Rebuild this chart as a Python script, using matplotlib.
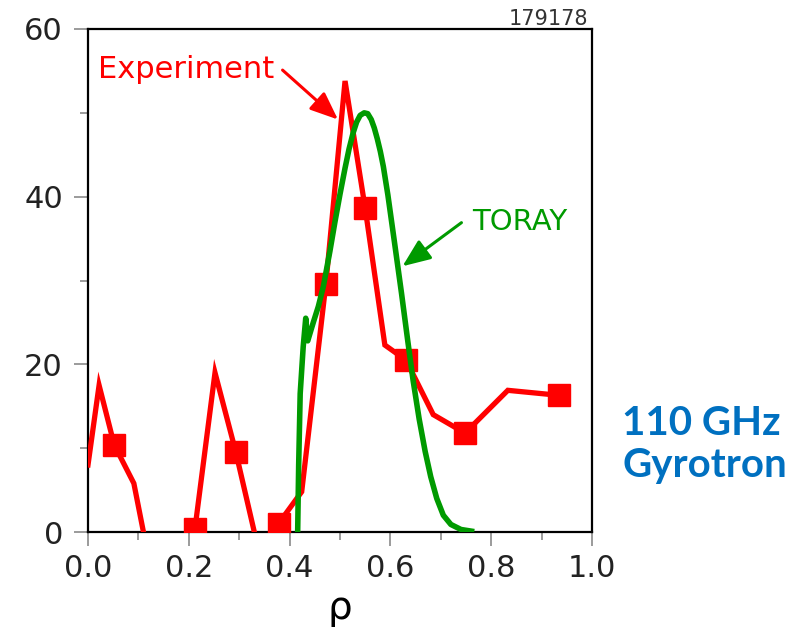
import numpy as np
import matplotlib
matplotlib.use('Agg')
import matplotlib.pyplot as plt
from matplotlib.ticker import MultipleLocator

# measured deposition profile (rho, power density)
rho_exp = [0.0, 0.022, 0.052, 0.091, 0.11, 0.16, 0.212, 0.252, 0.293, 0.33,
           0.355, 0.378, 0.424, 0.472, 0.510, 0.550, 0.589, 0.631, 0.685,
           0.748, 0.833, 0.935]
p_exp = [8.0, 17.5, 10.4, 5.8, 0.0, -8.0, 0.3, 19.0, 9.6, 0.0,
         -4.0, 1.0, 4.8, 29.6, 53.8, 38.6, 22.3, 20.5, 14.0,
         11.8, 16.9, 16.3]
exp_markers = [2, 6, 8, 11, 13, 15, 17, 19, 21]

# TORAY ray-tracing prediction
rho_toray = [0.416, 0.418, 0.421, 0.427, 0.432, 0.436, 0.447, 0.457, 0.467,
             0.480, 0.490, 0.500, 0.510, 0.518, 0.526, 0.533, 0.540, 0.548,
             0.555, 0.562, 0.568, 0.574, 0.580, 0.586, 0.595, 0.608, 0.622,
             0.634, 0.645, 0.657, 0.669, 0.680, 0.692, 0.705, 0.720, 0.740,
             0.761]
p_toray = [0.0, 8.0, 16.5, 22.1, 25.5, 22.8, 25.0, 26.9, 29.3,
           33.5, 37.0, 40.3, 43.4, 45.7, 47.6, 48.9, 49.7, 50.0,
           49.9, 49.2, 48.2, 46.9, 45.4, 43.6, 40.2, 34.6, 28.5,
           23.0, 18.1, 13.5, 9.6, 6.6, 4.0, 2.0, 0.9, 0.3,
           0.1]

xticks = [0.0, 0.2, 0.4, 0.6, 0.8, 1.0]
xticklabels = ['0.0', '0.2', '0.4', '0.6', '0.8', '1.0']
yticks = [0, 20, 40, 60]

red = '#ff0000'
green = '#009a00'
blue = '#0070c0'

fig = plt.figure(figsize=(8.11, 6.30), dpi=100)
ax = fig.add_axes([88 / 811, 98 / 630, 504 / 811, 503 / 630])

ax.plot(rho_exp, p_exp, color=red, lw=3.8, solid_joinstyle='miter',
        marker='s', markersize=16, markevery=exp_markers, zorder=3)
ax.plot(rho_toray, p_toray, color=green, lw=4.0, zorder=4)

ax.set_xlim(0, 1)
ax.set_ylim(0, 60)
ax.set_xticks(xticks)
ax.set_xticklabels(xticklabels)
ax.set_yticks(yticks)
ax.xaxis.set_minor_locator(MultipleLocator(0.1))
ax.yaxis.set_minor_locator(MultipleLocator(10))
ax.tick_params(which='both', direction='out', color='#8a8a8a', width=1.2,
               labelsize=22, labelcolor='#222222')
ax.tick_params(which='major', length=10)
ax.tick_params(which='minor', length=6)
ax.tick_params(axis='y', pad=8)
ax.tick_params(axis='x', pad=6)
for s in ax.spines.values():
    s.set_linewidth(1.6)
    s.set_color('black')

ax.set_xlabel(u'\u03c1', fontsize=28, labelpad=4)

ax.annotate('', xy=(0.496, 49.2), xytext=(0.386, 55.1),
            arrowprops=dict(arrowstyle='-|>,head_length=0.85,head_width=0.35',
                            mutation_scale=20, color=red, lw=2.2,
                            shrinkA=0, shrinkB=0))
ax.text(0.02, 54.2, 'Experiment', color=red, fontsize=22, va='baseline')

ax.annotate('', xy=(0.624, 31.7), xytext=(0.741, 36.9),
            arrowprops=dict(arrowstyle='-|>,head_length=0.85,head_width=0.35',
                            mutation_scale=20, color=green, lw=2.2,
                            shrinkA=0, shrinkB=0))
ax.text(0.762, 36.0, 'TORAY', color=green, fontsize=21, va='baseline')

fig.text(588 / 811, 1 - 25 / 630, '179178', fontsize=15, color='#333333',
         ha='right', va='baseline')

fig.text(622 / 811, 1 - 435 / 630, '110 GHz', family='Lato', weight='bold',
         fontsize=29, color=blue, va='baseline')
fig.text(622 / 811, 1 - 477 / 630, 'Gyrotron', family='Lato', weight='bold',
         fontsize=29, color=blue, va='baseline')

fig.savefig('out.png', dpi=100)
